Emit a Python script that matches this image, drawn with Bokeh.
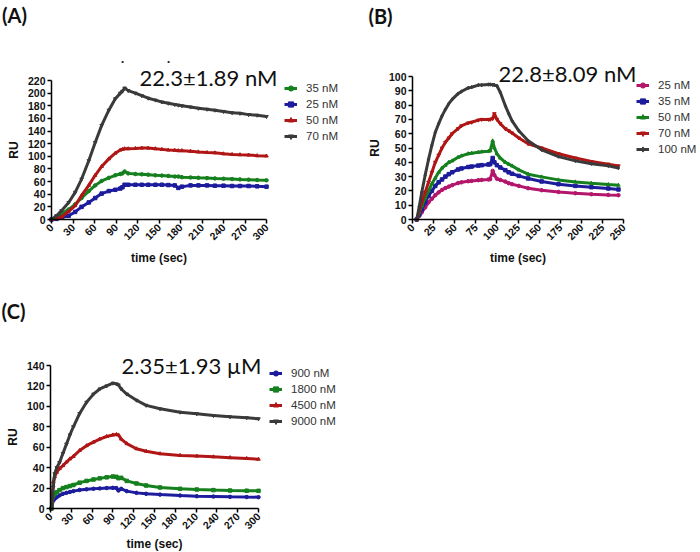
import math
from bokeh.plotting import figure
from bokeh.models import (Range1d, SingleIntervalTicker, Label, Legend, LegendItem)
from bokeh.layouts import column, row
from bokeh.embed import file_html
from bokeh.resources import INLINE

# ---------------- Panel A data ----------------
tA = [0, 7, 14, 24, 33, 42, 52, 61, 70, 80, 89, 96, 99, 102, 107, 117, 126, 135, 145,
      154, 163, 172, 177, 182, 194, 205, 217, 228, 240, 252, 263, 275, 287, 300]
a_35 = [0, 5, 9, 16, 24, 34, 45, 54, 61, 66, 70, 72, 73, 76, 73, 72, 71.5, 71, 70,
        69.5, 69, 68, 68, 67, 66.5, 66, 65.5, 65, 64.5, 64, 63.5, 63, 62.5, 62]
a_25 = [0, 1, 3, 6, 12, 20, 27, 34, 41, 45, 47, 49, 51, 55, 55, 55, 55, 55, 55,
        55, 54.5, 54, 50, 52, 54, 54, 54, 53.5, 53.5, 53, 53, 53, 52.5, 52]
a_50 = [0, 1.5, 4, 13, 22, 38, 54, 70, 84, 96, 105, 110, 111, 112, 112, 112.5, 113, 113, 112,
        111, 110, 109.5, 109, 109, 108, 107, 106, 105.5, 104, 103, 102.5, 102, 101, 100.5]
a_70 = [0, 6, 14, 27, 43, 64, 93, 122, 149, 173, 191, 200, 203, 208, 204, 200, 196, 192, 189,
        186, 184, 182, 181, 180, 178, 176, 174.5, 173, 171, 169, 168, 166, 165, 163]
labelsA = ["35 nM", "25 nM", "50 nM", "70 nM"]

# ---------------- Panel B data ----------------
tB = [5, 8, 11, 15, 19, 23, 27, 31, 35, 39, 43, 47, 54, 58, 66, 70, 78, 82, 90, 92,
      95, 97, 100, 104, 110, 114, 118, 126, 137, 153, 173, 193, 212, 232, 244]
b_25 = [0, 2.5, 5, 8.5, 12, 14.5, 17, 19, 20.7, 22, 23, 24, 25.5, 26, 26.8, 27, 27.5, 27.7, 28, 28.2,
        34, 31, 28.5, 27.7, 26.5, 25.4, 24.7, 23.5, 21.9, 20.5, 19.3, 18.4, 17.7, 17.2, 17]
b_35 = [0, 3.5, 7, 12, 16.5, 20, 23.5, 26, 28, 30, 31.7, 33, 35, 35.7, 36.7, 37, 37.7, 38, 38.5, 38.7,
        43, 40, 38, 36.4, 34.5, 33, 32, 30.5, 28.7, 26.6, 24.7, 23.5, 22.6, 21.7, 21]
b_50 = [0, 5, 9.5, 15, 20, 25, 29, 33, 36, 38, 40, 41, 43.5, 44.5, 46, 46.4, 47, 47.3, 47.8, 48,
        55, 50, 46, 43, 40, 38.7, 37.5, 34.7, 31.7, 29.8, 27.7, 26.3, 25.4, 24.5, 24]
b_70 = [0, 6, 12, 19, 26, 33, 40, 45, 50, 54, 57, 60, 63.5, 65.5, 67.5, 68, 69.5, 70, 70, 70,
        70.6, 74, 70, 67, 63.5, 62, 60.5, 57, 53, 50, 46, 43, 40.5, 38.7, 37.5]
b_100 = [0, 9, 19, 31, 42, 52, 61, 67, 72.5, 77, 81, 84, 88, 89.5, 92, 92.5, 94, 94, 94.4, 94.4,
         94.2, 94, 93.5, 89, 79.5, 74, 69, 62, 55, 48.7, 44, 41, 39, 37.5, 36]
labelsB = ["25 nM", "35 nM", "50 nM", "70 nM", "100 nM"]

# ---------------- Panel C data ----------------
tC = [1.5, 4, 6, 9, 13, 18, 23, 28, 33, 42, 52, 62, 71, 81, 90, 95, 98, 102, 110,
      124, 138, 158, 187, 211, 235, 259, 283, 300]
c_900 = [0, 7.8, 9.5, 11, 12.8, 14.4, 15.3, 16.2, 17, 18.2, 18.8, 19.3, 19.7, 20, 20.2, 20, 17.6, 19.3, 17,
         15.3, 14.4, 13.6, 12.7, 12, 11.7, 11.4, 11.2, 11.1]
c_1800 = [0, 12.7, 14.5, 16, 18, 20, 21, 22, 23, 25.3, 27, 28.4, 29.5, 30.5, 31.3, 31, 29.7, 30, 27,
          24.5, 22.5, 20.6, 19.3, 18.6, 18, 17.6, 17.4, 17.3]
c_4500 = [0, 26, 31, 35.6, 39, 42, 45.5, 48.6, 51, 56.8, 61.5, 65, 68, 70.5, 72, 72.5, 72, 68, 63.5,
          58.5, 56, 53.7, 52, 51.3, 50.6, 49.8, 49, 48.3]
c_9000 = [0, 21, 34, 40, 45, 54, 63, 72, 80, 93, 104, 112, 117, 120, 122.7, 122, 121, 117, 112,
          106, 101, 97.6, 94.3, 92.7, 91, 89.8, 88.8, 87.8]
labelsC = ["900 nM", "1800 nM", "4500 nM", "9000 nM"]

GREEN = "#16801f"
BLUE = "#1c1c9c"
RED = "#b01616"
GRAY = "#3a3a3a"
MAGENTA = "#b3166b"

AX_FONT = "Liberation Sans"
TXT_FONT = "Lato"


def make_panel(W, H, xdata, ydata, xpix, ypix, xstep, ystep, t, series, labels,
               colors, markers, legend_px, kd_text, kd_px, tag, tag_px, xlabel_standoff=4):
    # xpix/ypix: pixel positions (inside this figure) of the data extremes
    sx = (xpix[1] - xpix[0]) / (xdata[1] - xdata[0])
    sy = (ypix[0] - ypix[1]) / (ydata[1] - ydata[0])
    x0 = xdata[0] - xpix[0] / sx
    x1 = xdata[1] + (W - xpix[1]) / sx
    y0 = ydata[0] - (H - ypix[0]) / sy
    y1 = ydata[1] + ypix[1] / sy

    def dx(px):
        return x0 + px / sx

    def dy(py):
        return y0 + (H - py) / sy

    p = figure(width=W, height=H, output_backend="svg", toolbar_location=None,
               x_range=Range1d(x0, x1), y_range=Range1d(y0, y1),
               min_border_left=0, min_border_right=0,
               min_border_top=0, min_border_bottom=0)
    p.outline_line_color = None
    p.xgrid.visible = False
    p.ygrid.visible = False
    p.background_fill_color = "white"
    p.border_fill_color = "white"
    p.xaxis.ticker = SingleIntervalTicker(interval=xstep)
    p.yaxis.ticker = SingleIntervalTicker(interval=ystep)
    p.xaxis.fixed_location = ydata[0]
    p.yaxis.fixed_location = xdata[0]
    p.xaxis.bounds = xdata
    p.yaxis.bounds = ydata
    for ax in (p.xaxis[0], p.yaxis[0]):
        ax.axis_line_width = 1.5
        ax.axis_line_color = "black"
        ax.major_tick_line_width = 1.5
        ax.major_tick_out = 4
        ax.major_tick_in = 0
        ax.minor_tick_line_color = None
        ax.major_label_text_font = AX_FONT
        ax.major_label_text_font_style = "bold"
        ax.major_label_text_font_size = "10.5px"
        ax.major_label_text_color = "#111111"
        ax.major_label_standoff = 2
        ax.axis_label_text_font = AX_FONT
        ax.axis_label_text_font_style = "bold"
        ax.axis_label_text_font_size = "12px"
        ax.axis_label_text_color = "#111111"
        ax.axis_label_standoff = 4
    p.xaxis.axis_label_standoff = xlabel_standoff
    p.xaxis.major_label_orientation = math.pi / 4
    p.xaxis.axis_label = "time (sec)"
    p.yaxis.axis_label = "RU"

    items = []
    for vals, lab, col, mk in zip(series, labels, colors, markers):
        lr = p.line(t, vals, line_color=col, line_width=3)
        sr = p.scatter(t, vals, marker=mk, size=3.5, fill_color=col, line_color=col)
        items.append(LegendItem(label=lab, renderers=[lr, sr]))
    n = len(items)
    row_h = 16
    leg_h = n * row_h - 2
    leg = Legend(items=items, location=(legend_px[0], H - legend_px[1] - leg_h))
    leg.label_text_font = AX_FONT
    leg.label_text_font_size = "11.5px"
    leg.label_text_color = "#333333"
    leg.glyph_width = 13
    leg.glyph_height = 14
    leg.label_height = 14
    leg.spacing = 2
    leg.padding = 0
    leg.margin = 0
    leg.label_standoff = 9
    leg.background_fill_alpha = 0
    leg.border_line_color = None
    p.add_layout(leg)

    p.add_layout(Label(x=dx(kd_px[0]), y=dy(kd_px[1]), text=kd_text, text_font=TXT_FONT,
                       text_font_size="22px", text_align="center", text_baseline="middle",
                       text_color="#111111"))
    p.add_layout(Label(x=dx(tag_px[0]), y=dy(tag_px[1]), text=tag, text_font=TXT_FONT,
                       text_font_style="bold", text_font_size="20px", text_align="center",
                       text_baseline="middle", text_color="#111111"))
    return p, dx, dy


# Panel A: figure at page (0,0)
pA, dxA, dyA = make_panel(350, 275, (0, 300), (0, 220), (51, 266), (219, 80), 30, 20, tA,
                          [a_35, a_25, a_50, a_70], labelsA, [GREEN, BLUE, RED, GRAY],
                          ["circle", "square", "triangle", "inverted_triangle"],
                          (284, 81), "22.3±1.89 nM", (208, 77), "(A)", (14, 14))
for px in (122, 168):
    pA.add_layout(Label(x=dxA(px), y=dyA(60), text="·", text_font=TXT_FONT,
                        text_font_size="14px", text_align="center", text_baseline="middle",
                        text_color="#222222"))

# Panel B: figure at page (350,0)
pB, _, _ = make_panel(348, 275, (0, 250), (0, 100), (62, 273), (219, 76), 25, 10, tB,
                      [b_25, b_35, b_50, b_70, b_100], labelsB, [MAGENTA, BLUE, GREEN, RED, GRAY],
                      ["circle", "square", "triangle", "inverted_triangle", "diamond"],
                      (286, 78), "22.8±8.09 nM", (217, 73), "(B)", (30, 15))

# Panel C: figure at page (0,275)
pC, _, _ = make_panel(350, 277, (0, 300), (0, 140), (50, 258), (233, 90), 30, 20, tC,
                      [c_900, c_1800, c_4500, c_9000], labelsC, [BLUE, GREEN, RED, GRAY],
                      ["circle", "square", "triangle", "inverted_triangle"],
                      (269, 91), "2.35±1.93 µM", (191, 90), "(C)", (13, 35),
                      xlabel_standoff=1)

layout = column(row(pA, pB), row(pC))
open("out.html", "w").write(file_html(layout, INLINE))
